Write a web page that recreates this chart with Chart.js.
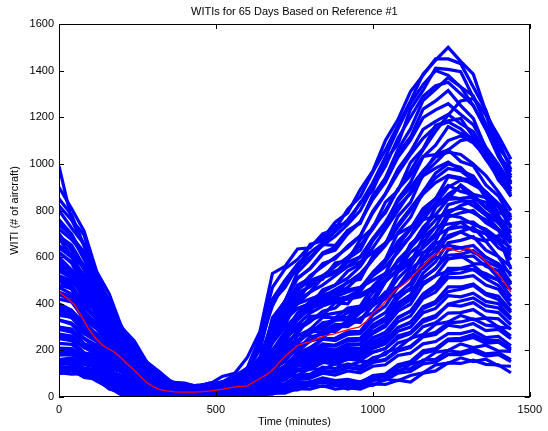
<!DOCTYPE html>
<html><head><meta charset="utf-8">
<script src="https://cdn.jsdelivr.net/npm/chart.js@4/dist/chart.umd.min.js"></script>
<style>html,body{margin:0;padding:0;background:#fff}#wrap{width:548px;height:431px}</style>
</head><body><div id="wrap"><canvas id="c" width="548" height="431"></canvas></div>
<script>
const chartTitle = 'WITIs for 65 Days Based on Reference #1';
const xTitle = 'Time (minutes)';
const yTitle = 'WITI (# of aircraft)';
const xTicks = [0, 500, 1000, 1500];
const yTicks = [0, 200, 400, 600, 800, 1000, 1200, 1400, 1600];
const minutes = [0,40,80,120,160,200,240,280,320,360,400,440,480,520,560,600,640,680,720,760,800,840,880,920,960,1000,1040,1080,1120,1160,1200,1240,1280,1320,1360,1400,1440];
const day1 = [990,760,695,510,415,280,225,130,95,55,48,38,52,44,66,62,98,122,178,195,240,252,300,310,372,410,495,548,655,700,815,870,905,850,835,745,712];
const day2 = [620,575,470,415,320,262,170,128,65,55,38,50,55,88,102,170,280,530,560,635,640,700,720,805,860,965,1060,1165,1270,1385,1445,1500,1440,1385,1225,1100,975];
const day3 = [720,675,615,455,395,270,210,122,88,50,48,36,55,64,96,115,230,390,495,545,655,670,735,745,835,885,1015,1085,1235,1315,1410,1405,1395,1285,1215,1040,965];
const day4 = [560,515,420,365,280,222,140,98,44,40,26,34,36,60,74,118,170,310,410,535,590,655,650,715,745,865,925,1045,1115,1235,1270,1315,1250,1195,1065,995,890];
const day5 = [800,725,655,485,395,258,212,140,102,64,58,46,60,60,86,95,170,250,355,405,495,505,575,585,675,725,835,885,1005,1065,1165,1185,1195,1115,1065,945,895];
const day6 = [480,465,385,345,250,212,130,98,44,34,22,28,26,44,50,76,112,200,250,345,370,435,440,495,505,605,655,775,835,955,1005,1060,1100,1110,1040,930,870];
const day7 = [680,605,555,405,345,228,180,102,72,40,38,26,40,40,66,74,118,150,232,270,345,350,405,400,465,535,590,705,770,880,960,1000,985,930,870,790,775];
const day8 = [380,365,290,262,190,160,92,66,30,24,12,18,16,30,30,50,74,138,182,262,290,342,340,382,390,475,530,635,690,795,850,945,935,935,855,815,725];
const day9 = [600,545,485,365,312,208,170,92,66,35,34,22,34,30,50,50,96,132,198,232,280,280,312,310,362,400,495,545,655,705,815,850,910,870,855,765,735];
const day10 = [300,292,228,212,150,128,72,55,20,18,8,12,10,18,16,34,54,118,152,222,240,282,280,322,320,402,440,535,575,685,730,825,840,840,790,755,665];
const day11 = [520,485,390,332,240,198,122,86,40,34,22,25,22,34,36,55,64,108,132,190,200,250,252,280,282,352,390,472,520,615,670,772,790,800,748,715,628];
const day12 = [250,242,190,180,122,108,62,46,16,15,8,12,8,15,15,30,45,96,134,188,212,248,242,268,272,330,362,442,488,582,630,722,750,750,710,672,588];
const day13 = [440,412,330,292,220,180,112,78,34,28,16,21,17,28,26,45,54,96,124,178,192,228,222,248,252,310,340,422,468,562,610,692,710,728,670,692,548];
const day14 = [350,342,280,242,172,148,82,62,26,23,12,17,13,24,24,40,50,92,114,168,182,218,218,242,244,300,332,402,438,532,580,662,672,688,630,602,518];
const day15 = [200,198,162,148,102,88,44,36,12,10,4,8,6,13,12,25,35,76,104,158,172,208,202,228,228,280,312,382,418,512,550,632,640,650,600,572,490];
const day16 = [400,372,300,262,190,160,92,68,30,24,14,18,15,26,26,45,50,86,110,158,168,202,198,222,224,272,302,368,398,482,520,592,600,605,560,542,460];
const day17 = [150,158,124,118,74,60,26,18,4,4,1,4,2,7,6,16,25,66,94,148,162,198,192,212,208,255,275,342,368,442,480,552,552,565,520,502,430];
const day18 = [330,312,252,222,162,138,78,56,24,21,11,15,12,21,22,36,40,76,94,138,148,178,172,198,194,238,262,322,348,422,450,512,512,520,480,462,390];
const day19 = [500,462,370,312,232,188,112,78,36,30,18,23,19,30,28,45,50,82,94,132,138,168,162,182,178,218,238,298,318,388,410,472,472,485,445,432,370];
const day20 = [120,128,98,92,54,46,16,13,2,3,0,2,1,6,5,14,20,56,74,118,128,158,152,172,168,208,228,282,300,362,380,435,430,445,410,400,340];
const day21 = [270,262,212,190,132,108,58,44,16,15,7,12,8,16,15,30,30,62,74,112,118,148,142,162,158,192,208,262,278,332,350,395,390,405,370,362,310];
const day22 = [180,182,152,138,92,78,38,30,8,8,3,7,4,10,10,22,26,52,58,92,98,128,122,142,132,168,182,232,248,302,318,360,362,375,340,335,290];
const day23 = [600,528,462,348,292,188,140,68,46,20,22,13,22,18,32,30,50,55,86,94,122,118,142,134,152,154,192,208,252,268,312,322,350,332,338,300,295];
const day24 = [100,112,88,82,38,30,6,5,0,1,0,0,0,3,3,9,12,36,44,78,84,112,108,128,118,148,158,198,212,258,268,308,300,315,285,290,250];
const day25 = [230,226,182,168,112,92,48,36,10,11,3,7,4,11,9,20,20,46,50,78,80,102,94,112,104,132,138,178,188,228,238,272,272,285,255,260,220];
const day26 = [150,146,112,102,62,52,18,16,2,4,0,2,1,5,4,13,14,36,40,66,64,82,70,76,64,88,88,128,142,188,200,242,242,255,230,235,200];
const day27 = [110,122,94,86,44,30,6,7,0,1,0,0,2,1,6,4,16,18,40,46,66,60,66,50,66,70,96,104,142,154,192,200,228,212,222,198,196];
const day28 = [130,124,94,90,54,40,10,8,0,2,0,1,0,3,2,9,8,22,26,50,50,66,50,54,44,72,72,102,110,142,150,182,182,195,175,182,152];
const day29 = [100,116,84,76,34,20,2,3,0,0,0,0,0,0,4,2,12,12,30,30,50,46,52,34,50,50,76,70,92,104,138,145,168,152,162,134,132];
const day30 = [105,98,100,68,40,8,5,0,0,0,0,0,0,0,2,4,4,16,16,36,34,48,34,40,34,56,54,72,64,102,112,146,144,158,140,138,104];
const day31 = [850,782,648,535,388,302,198,150,78,66,44,50,45,66,70,100,140,250,310,412,450,512,530,592,630,732,790,892,950,1032,1040,1060,1010,992,910,862,770];
const day32 = [700,628,562,418,352,238,188,102,72,40,42,31,44,44,64,70,106,134,198,232,290,302,340,342,390,422,500,542,620,662,730,742,750,712,700,640,610];
const day33 = [420,408,340,300,222,178,108,76,34,28,16,22,18,32,36,60,88,178,242,340,390,460,480,540,570,670,740,850,920,1030,1080,1160,1130,1110,1020,960,860];
const day34 = [900,808,712,538,442,298,240,150,108,62,60,45,60,60,86,95,138,162,220,242,290,292,330,332,370,392,450,472,530,552,600,592,605,572,570,512,490];
const day35 = [260,256,212,188,132,108,58,44,16,15,6,13,10,27,30,62,120,340,410,510,550,612,630,700,750,862,940,1062,1150,1272,1320,1370,1330,1292,1170,1052,920];
const day36 = [550,522,428,372,270,220,136,96,46,38,24,29,27,40,42,62,76,120,154,212,238,282,292,328,332,392,432,508,562,648,702,788,822,838,782,748,672];
const day37 = [760,688,622,468,382,258,200,118,80,46,46,36,52,58,90,125,258,470,550,590,650,680,750,790,890,970,1100,1190,1310,1380,1450,1450,1430,1330,1230,1070,1000];
const day38 = [650,612,508,422,310,245,156,112,56,46,30,35,35,54,66,105,162,328,412,508,552,618,642,708,752,848,922,1028,1102,1198,1232,1258,1212,1168,1072,998,912];
const day39 = [330,318,272,238,172,142,84,60,26,21,11,16,15,32,42,74,134,308,372,448,472,518,532,578,602,678,732,818,872,948,982,1008,972,948,872,818,732];
const day40 = [470,442,360,310,232,188,112,78,36,29,18,23,21,34,37,56,80,146,204,288,322,368,382,428,452,528,582,668,722,808,852,908,882,868,812,768,682];
const day41 = [580,518,462,348,298,205,158,88,60,32,33,25,35,35,52,56,90,114,172,202,258,268,302,302,338,362,428,472,548,592,658,682,708,682,668,602,558];
const day42 = [210,208,172,158,108,92,48,38,12,11,5,9,7,15,14,28,40,86,118,172,188,222,222,248,248,298,328,392,432,508,552,608,612,628,582,558,482];
const day43 = [370,352,290,252,182,152,88,64,28,24,13,17,15,24,24,39,46,80,100,146,158,188,182,208,208,252,278,338,368,432,468,528,532,548,508,478,412];
const day44 = [160,168,138,128,84,70,28,22,5,6,1,5,2,9,8,19,28,66,88,136,148,178,172,192,188,228,248,298,322,378,402,452,462,478,438,418,362];
const day45 = [290,278,228,198,142,118,66,48,18,16,7,12,9,17,16,30,34,64,76,116,120,150,142,162,158,192,208,252,272,322,342,398,412,425,392,382,332];
const day46 = [140,142,112,108,64,56,20,16,2,4,0,3,1,7,6,15,18,44,52,84,88,114,108,126,120,150,162,202,218,262,278,318,322,335,308,302,262];
const day47 = [120,132,102,96,50,40,8,9,0,2,0,1,0,4,3,11,10,32,34,62,58,80,62,72,62,92,98,138,152,198,208,248,252,268,242,242,208];
const day48 = [190,186,148,132,84,68,26,22,4,5,0,4,1,7,5,14,12,34,36,62,60,76,60,66,56,82,86,116,122,158,162,198,192,208,185,190,160];
const day49 = [440,428,362,310,232,188,112,82,36,31,16,27,20,42,42,88,140,330,390,480,510,572,592,648,692,798,872,978,1052,1148,1182,1212,1172,1138,1052,978,892];
const day50 = [540,512,420,362,268,212,132,94,44,38,22,29,22,40,38,65,72,132,172,242,272,318,328,362,378,448,502,588,642,728,782,848,852,858,812,778,702];
const day51 = [580,540,452,388,292,228,150,104,52,42,28,32,40,55,78,120,200,410,470,560,600,650,690,740,800,900,990,1110,1200,1290,1335,1350,1300,1250,1150,1040,950];
const day52 = [690,652,560,440,352,250,182,118,70,46,38,36,42,50,70,92,150,280,380,460,520,560,600,640,690,790,870,960,1040,1110,1160,1180,1150,1100,1020,940,860];
const day53 = [390,372,318,270,205,160,98,70,32,26,14,18,20,30,40,62,110,240,330,400,450,480,520,560,600,680,750,840,900,970,1030,1050,1040,1000,950,880,800];
const day54 = [620,580,500,390,320,222,162,98,62,36,30,24,30,34,46,55,98,180,260,330,380,420,440,470,520,590,650,730,800,870,920,950,940,910,880,820,760];
const day55 = [510,470,410,330,260,195,130,86,45,33,22,26,28,40,50,80,130,260,350,430,480,520,560,600,650,720,800,890,970,1060,1140,1210,1270,1280,1210,1120,1020];
const day56 = [450,430,360,305,228,182,110,78,36,29,16,22,20,34,40,70,130,300,400,460,500,520,540,560,580,620,660,700,730,760,775,780,770,740,720,680,640];
const day57 = [680,640,545,430,355,255,180,118,72,44,38,34,48,56,80,118,210,420,500,570,620,660,710,760,830,920,1030,1150,1260,1340,1400,1380,1330,1250,1150,1030,940];
const day58 = [300,285,250,210,160,122,75,52,22,17,9,12,12,22,30,50,90,200,280,360,410,450,480,510,560,640,720,800,880,960,1040,1100,1120,1090,1030,950,880];
const day59 = [760,700,600,470,380,268,195,125,80,50,44,36,46,52,70,85,120,200,270,340,400,430,460,490,530,590,660,740,810,880,940,980,970,930,880,820,760];
const day60 = [360,340,292,250,190,150,92,62,30,22,12,16,16,24,30,48,90,170,240,310,360,390,410,430,460,520,580,650,720,780,830,860,850,820,780,720,660];
const day61 = [740,690,590,460,372,262,190,120,76,48,40,34,44,50,66,82,150,300,360,400,420,440,450,460,470,500,530,560,590,620,640,650,640,620,600,570,530];
const day62 = [270,250,215,182,140,110,66,46,18,15,8,11,10,18,20,36,70,170,250,300,330,350,360,370,380,400,420,440,460,490,520,540,550,545,530,500,460];
const day63 = [640,600,520,410,330,238,170,110,64,42,34,30,38,44,58,72,120,230,300,350,380,400,410,420,430,460,500,540,590,640,690,720,730,720,700,660,620];
const day64 = [520,500,440,360,280,210,140,92,48,36,24,26,28,38,46,66,110,260,330,380,400,410,420,430,440,470,520,580,640,700,760,800,810,790,760,720,670];
const day65 = [820,760,650,500,400,285,205,135,88,56,48,40,50,56,76,92,140,270,340,380,400,420,430,450,470,520,560,620,690,760,830,900,930,920,880,830,780];
const days = [day1,day2,day3,day4,day5,day6,day7,day8,day9,day10,day11,day12,day13,day14,day15,day16,day17,day18,day19,day20,day21,day22,day23,day24,day25,day26,day27,day28,day29,day30,day31,day32,day33,day34,day35,day36,day37,day38,day39,day40,day41,day42,day43,day44,day45,day46,day47,day48,day49,day50,day51,day52,day53,day54,day55,day56,day57,day58,day59,day60,day61,day62,day63,day64,day65];
const meanMinutes = [0,25,50,70,91,115,138,160,176,195,214,240,261,280,302,320,343,370,396,430,460,484,520,560,600,632,660,673,690,704,720,736,758,780,799,820,846,874,900,930,956,980,1000,1015,1031,1050,1072,1090,1104,1125,1145,1170,1189,1210,1239,1260,1277,1302,1325,1346,1365,1387,1410,1425,1440];
const meanValues = [450,425,395,350,300,255,223,205,193,172,146,115,86,62,43,33,26,22,21,21,23,26,33,43,48,73,95,107,130,152,175,193,220,230,236,248,262,270,280,292,300,325,360,378,395,425,459,475,489,515,545,575,601,620,640,630,622,640,620,601,575,545,510,480,450];

const datasets = [{
  data: meanMinutes.map((m,i)=>({x:m,y:meanValues[i]})),
  borderColor:'#ff0000', borderWidth:1.3, pointRadius:0, fill:false
}];
days.forEach(d => datasets.push({
  data: minutes.map((m,i)=>({x:m,y:d[i]})),
  borderColor:'#0000ff', borderWidth:3.2, pointRadius:0, fill:false
}));

const font = {family:'"Liberation Sans", Arial, sans-serif', size:11};
const framePlugin = {
  id:'frame',
  afterDraw(chart){
    const {ctx, chartArea:{left,right,top,bottom}, scales:{x,y}} = chart;
    ctx.save();
    ctx.strokeStyle='#000'; ctx.lineWidth=1;
    ctx.strokeRect(Math.round(left)+0.5, Math.round(top)+0.5, Math.round(right-left)-1, Math.round(bottom-top)-1);
    ctx.beginPath();
    xTicks.forEach(v=>{const px=Math.round(x.getPixelForValue(v))+0.5; ctx.moveTo(px,bottom); ctx.lineTo(px,bottom-5); ctx.moveTo(px,top); ctx.lineTo(px,top+5);});
    yTicks.forEach(v=>{const py=Math.round(y.getPixelForValue(v))+0.5; ctx.moveTo(left,py); ctx.lineTo(left+5,py); ctx.moveTo(right,py); ctx.lineTo(right-5,py);});
    ctx.stroke();
    ctx.fillStyle='#000'; ctx.font='11px "Liberation Sans", Arial, sans-serif';
    ctx.textAlign='center'; ctx.textBaseline='middle';
    ctx.fillText(chartTitle, (left+right)/2, 12);
    ctx.restore();
  }
};

new Chart(document.getElementById('c'), {
  type:'line',
  data:{datasets},
  options:{
    responsive:false, animation:false, events:[],
    layout:{padding:{top:24,right:12,left:0,bottom:0}},
    plugins:{legend:{display:false}, title:{display:false}, tooltip:{enabled:false}},
    scales:{
      x:{type:'linear', min:0, max:1500,
        afterBuildTicks(s){ s.ticks = xTicks.map(v=>({value:v})); },
        afterFit(s){ s.height = 34; },
        grid:{display:false, drawTicks:false, tickLength:0}, border:{display:false},
        ticks:{color:'#000', font, padding:6, maxRotation:0, callback:v=>String(v)},
        title:{display:true, text:xTitle, color:'#000', font, padding:{top:0,bottom:2}}
      },
      y:{type:'linear', min:0, max:1600,
        afterBuildTicks(s){ s.ticks = yTicks.map(v=>({value:v})); },
        afterFit(s){ s.width = 59; },
        grid:{display:false, drawTicks:false, tickLength:0}, border:{display:false},
        ticks:{color:'#000', font, padding:5, callback:v=>String(v)},
        title:{display:true, text:yTitle, color:'#000', font, padding:{top:8,bottom:0}}
      }
    }
  },
  plugins:[framePlugin]
});
</script></body></html>
